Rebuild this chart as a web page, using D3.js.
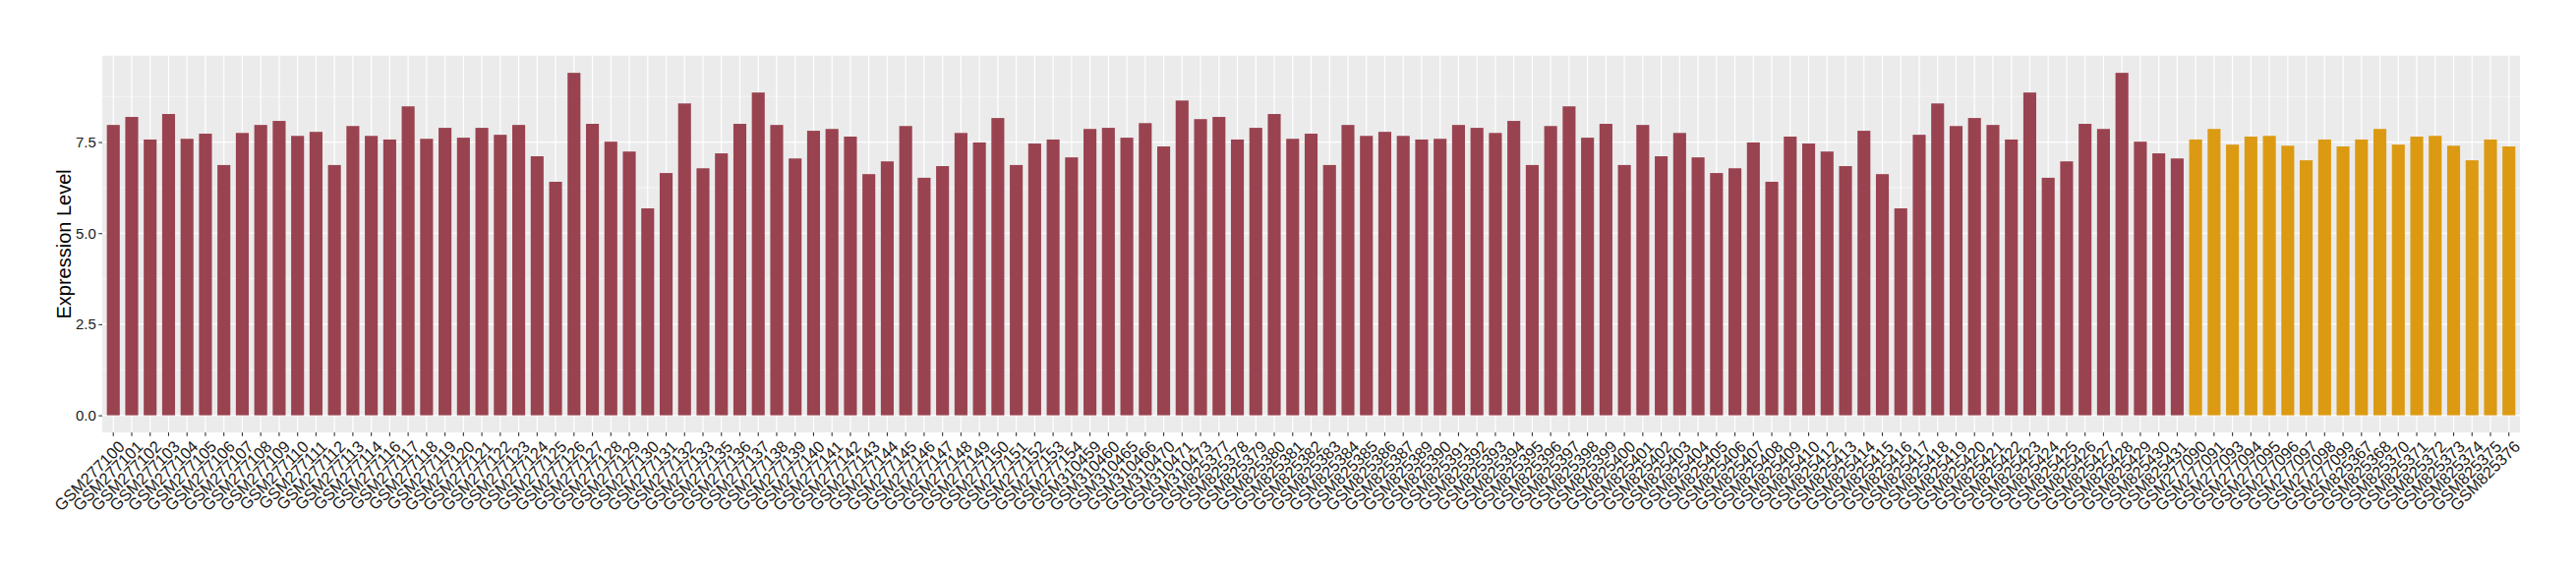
<!DOCTYPE html>
<html>
<head>
<meta charset="utf-8">
<script src="https://cdn.jsdelivr.net/npm/d3@7"></script>
<style>
  body { margin: 0; background: #fff; }
  svg text { font-family: "Liberation Sans", Arial, sans-serif; }
</style>
</head>
<body>
<svg id="canvas" width="2620" height="580"></svg>
<script>
// sample ids, in plot order
var samples = [
  'GSM277100','GSM277101','GSM277102','GSM277103','GSM277104','GSM277105','GSM277106','GSM277107','GSM277108','GSM277109',
  'GSM277110','GSM277111','GSM277112','GSM277113','GSM277114','GSM277116','GSM277117','GSM277118','GSM277119','GSM277120',
  'GSM277121','GSM277122','GSM277123','GSM277124','GSM277125','GSM277126','GSM277127','GSM277128','GSM277129','GSM277130',
  'GSM277131','GSM277132','GSM277133','GSM277135','GSM277136','GSM277137','GSM277138','GSM277139','GSM277140','GSM277141',
  'GSM277142','GSM277143','GSM277144','GSM277145','GSM277146','GSM277147','GSM277148','GSM277149','GSM277150','GSM277151',
  'GSM277152','GSM277153','GSM277154','GSM310459','GSM310460','GSM310465','GSM310466','GSM310470','GSM310471','GSM310473',
  'GSM825377','GSM825378','GSM825379','GSM825380','GSM825381','GSM825382','GSM825383','GSM825384','GSM825385','GSM825386',
  'GSM825387','GSM825389','GSM825390','GSM825391','GSM825392','GSM825393','GSM825394','GSM825395','GSM825396','GSM825397',
  'GSM825398','GSM825399','GSM825400','GSM825401','GSM825402','GSM825403','GSM825404','GSM825405','GSM825406','GSM825407',
  'GSM825408','GSM825409','GSM825410','GSM825412','GSM825413','GSM825414','GSM825415','GSM825416','GSM825417','GSM825418',
  'GSM825419','GSM825420','GSM825421','GSM825422','GSM825423','GSM825424','GSM825425','GSM825426','GSM825427','GSM825428',
  'GSM825429','GSM825430','GSM825431',
  'GSM277090','GSM277091','GSM277093','GSM277094','GSM277095','GSM277096','GSM277097','GSM277098','GSM277099',
  'GSM825367','GSM825368','GSM825370','GSM825371','GSM825372','GSM825373','GSM825374','GSM825375','GSM825376'
];

// expression level of each sample
var levels = [
  7.97,8.19,7.57,8.27,7.59,7.73,6.87,7.75,7.97,8.08,
  7.67,7.78,6.87,7.94,7.67,7.57,8.48,7.59,7.89,7.62,
  7.89,7.70,7.97,7.11,6.41,9.40,8.00,7.51,7.24,5.68,
  6.65,8.56,6.78,7.19,8.00,8.86,7.97,7.05,7.81,7.86,
  7.65,6.62,6.97,7.94,6.52,6.84,7.75,7.49,8.16,6.87,
  7.46,7.57,7.08,7.86,7.89,7.62,8.02,7.38,8.64,8.13,
  8.19,7.57,7.89,8.27,7.59,7.73,6.87,7.97,7.67,7.78,
  7.67,7.57,7.59,7.97,7.89,7.75,8.08,6.87,7.94,8.48,
  7.62,8.00,6.87,7.97,7.11,7.75,7.08,6.65,6.78,7.49,
  6.41,7.65,7.46,7.24,6.84,7.81,6.62,5.68,7.70,8.56,
  7.94,8.16,7.97,7.57,8.86,6.52,6.97,8.00,7.86,9.40,
  7.51,7.19,7.05,
  7.57,7.86,7.43,7.65,7.67,7.40,7.00,7.57,7.38,
  7.57,7.86,7.43,7.65,7.67,7.40,7.00,7.57,7.38
];

// group of each sample (two colours)
var groups = samples.map(function (s, i) { return i < 113 ? 'A' : 'B'; });
var groupColors = { A: '#9A4350', B: '#DC9A13' };

var yTicks = [0, 2.5, 5, 7.5];
var yMinor = [1.25, 3.75, 6.25, 8.75];
var yTitle = 'Expression Level';

var data = samples.map(function (s, i) { return { name: s, value: levels[i], group: groups[i] }; });

var panel = { left: 104, right: 2563, top: 56.7, bottom: 440 };
var svg = d3.select('#canvas');

var x = d3.scaleBand()
  .domain(samples)
  .range([panel.left, panel.right])
  .paddingInner(0.3)
  .paddingOuter(0.25);

var maxV = d3.max(levels);
var y = d3.scaleLinear()
  .domain([-maxV * 0.05, maxV * 1.05])
  .range([panel.bottom, panel.top]);

// panel background
svg.append('rect')
  .attr('x', panel.left).attr('y', panel.top)
  .attr('width', panel.right - panel.left).attr('height', panel.bottom - panel.top)
  .attr('fill', '#EBEBEB');

// minor grid
svg.append('g').selectAll('line').data(yMinor).enter().append('line')
  .attr('x1', panel.left).attr('x2', panel.right)
  .attr('y1', d => y(d)).attr('y2', d => y(d))
  .attr('stroke', '#fff').attr('stroke-width', 0.6);

// major grid
svg.append('g').selectAll('line').data(yTicks).enter().append('line')
  .attr('x1', panel.left).attr('x2', panel.right)
  .attr('y1', d => y(d)).attr('y2', d => y(d))
  .attr('stroke', '#fff').attr('stroke-width', 1.2);

svg.append('g').selectAll('line').data(samples).enter().append('line')
  .attr('x1', d => x(d) + x.bandwidth() / 2).attr('x2', d => x(d) + x.bandwidth() / 2)
  .attr('y1', panel.top).attr('y2', panel.bottom)
  .attr('stroke', '#fff').attr('stroke-width', 1.2);

// bars
svg.append('g').selectAll('rect').data(data).enter().append('rect')
  .attr('x', d => x(d.name))
  .attr('width', x.bandwidth())
  .attr('y', d => y(d.value))
  .attr('height', d => y(0) - y(d.value))
  .attr('fill', d => groupColors[d.group]);

// y axis
var yAxis = svg.append('g')
  .attr('transform', 'translate(' + panel.left + ',0)')
  .call(d3.axisLeft(y).tickValues(yTicks).tickFormat(d3.format('.1f')).tickSize(3.7).tickPadding(2.5));
yAxis.select('.domain').remove();
yAxis.selectAll('line').attr('stroke', '#333').attr('stroke-width', 1.1);
yAxis.selectAll('text').attr('fill', '#1A1A1A').style('font-size', '15px');

// x axis
var xAxis = svg.append('g')
  .attr('transform', 'translate(0,' + panel.bottom + ')')
  .call(d3.axisBottom(x).tickSize(3.7));
xAxis.select('.domain').remove();
xAxis.selectAll('line').attr('stroke', '#333').attr('stroke-width', 1.1);
xAxis.selectAll('text')
  .attr('fill', '#1A1A1A')
  .style('font-size', '16.5px')
  .attr('x', 0).attr('y', 0).attr('dy', '0.72em')
  .attr('text-anchor', 'end')
  .attr('transform', 'translate(4,7) rotate(-45)');

// y title
svg.append('text')
  .attr('transform', 'translate(72,' + ((panel.top + panel.bottom) / 2) + ') rotate(-90)')
  .attr('text-anchor', 'middle')
  .style('font-size', '20px')
  .attr('fill', '#000')
  .text(yTitle);
</script>
</body>
</html>
